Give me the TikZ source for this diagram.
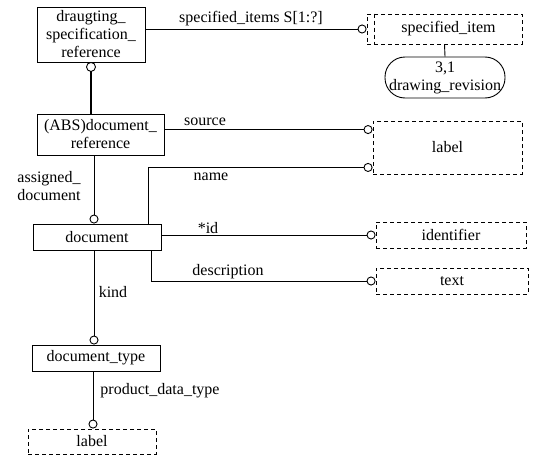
\documentclass[tikz,border=0pt]{standalone}
\usepackage{fontspec}
\setmainfont{Liberation Serif}
\usetikzlibrary{arrows.meta}

\tikzset{
  entity/.style={draw, line width=0.9pt, inner sep=0pt, align=center},
  typebox/.style={entity, dash pattern=on 4pt off 3pt},
  attr/.style={line width=0.9pt, -{Circle[open,length=9pt,width=9pt,line width=0.9pt]}},
  rolelabel/.style={inner sep=0pt, align=center}
}

\begin{document}
\begin{tikzpicture}[x=1pt, y=-1pt, font=\fontsize{16}{18}\selectfont]
  %%%%% BOXES %%%%%
  \useasboundingbox (0,0) rectangle (537,460);

  \node[entity, minimum width=108pt, minimum height=55pt] (dsr) at (91, 34.5)
    {draugting\_\\specification\_\\reference};
  \node[entity, minimum width=127pt, minimum height=41pt] (absdoc) at (100.5, 134.5)
    {(ABS)document\_\\reference};
  \node[entity, minimum width=128pt, minimum height=26pt] (doc) at (97, 237) {document};
  \node[entity, minimum width=128pt, minimum height=26pt] (doctype) at (96, 358) {document\_type};
  \node[typebox, minimum width=128pt, minimum height=25pt] (label2) at (92, 441.5) {label};

  \node[typebox, minimum width=155pt, minimum height=30pt] (specitem) at (444.5, 29) {\hspace{8pt}specified\_item};
  \draw[line width=0.9pt, dash pattern=on 4pt off 3pt]
    ([xshift=8pt]specitem.north west) -- ([xshift=8pt]specitem.south west);
  \node[entity, rounded corners=20pt, minimum width=120pt, minimum height=41pt] (drev) at (445, 77.5)
    {3,1\\drawing\_revision};
  \node[typebox, minimum width=149pt, minimum height=53pt] (label1) at (447.5, 147.5) {label};
  \node[typebox, minimum width=150pt, minimum height=26pt] (ident) at (451, 235) {identifier};
  \node[typebox, minimum width=152pt, minimum height=26pt] (txt) at (452, 281) {text};

  %%%%% BENDS %%%%%
  \coordinate (srcend) at ([yshift=-9pt]label1.north west);
  \coordinate (nameend) at ([yshift=7pt]label1.south west);
  \coordinate (namefoot) at (148, 224);
  \coordinate (nametop) at (namefoot |- nameend);
  \coordinate (descfoot) at (151, 250);
  \coordinate (descbend) at (descfoot |- txt.west);
  \coordinate (dsrring) at ([yshift=-4.5pt]dsr.south);

  %%%%% CONNECTORS %%%%%
  \draw[attr] (dsr.east |- specitem.west) -- (specitem.west);
  \draw[line width=0.9pt] (specitem.south) -- (drev.north);
  \draw[line width=2.4pt] (absdoc.north -| dsr.south) -- ([yshift=-9pt]dsr.south);
  \draw[line width=0.9pt] (dsrring) circle (4.5pt);
  \draw[attr] (absdoc.east |- srcend) -- (srcend);
  \draw[attr] (namefoot) -- (nametop) -- (nameend);
  \draw[attr] (doc.east |- ident.west) -- (ident.west);
  \draw[attr] (descfoot) -- (descbend) -- (txt.west);
  \draw[attr] ([xshift=-6.5pt]absdoc.south) -- ([xshift=-6.5pt]absdoc.south |- doc.north);
  \draw[attr] ([xshift=-3pt]doc.south) -- ([xshift=-3pt]doc.south |- doctype.north);
  \draw[attr] ([xshift=-3pt]doctype.south) -- ([xshift=-3pt]doctype.south |- label2.north);

  %%%%% LABELS %%%%%
  \node[rolelabel] (lspec) at (251, 19) {specified\_items S[1:?]};
  \node[rolelabel] (lsource) at (205, 122) {source};
  \node[rolelabel] (lname) at (211, 177) {name};
  \node[rolelabel] (lassigned) at (49, 186) {assigned\_\\document};
  \node[rolelabel] (lid) at (208, 228) {*id};
  \node[rolelabel] (ldesc) at (228, 272) {description};
  \node[rolelabel] (lkind) at (113, 292) {kind};
  \node[rolelabel] (lpdt) at (160, 391) {product\_data\_type};
\end{tikzpicture}
\end{document}
